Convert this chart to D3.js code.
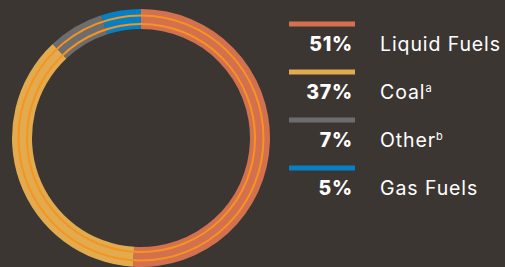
<!DOCTYPE html>
<html lang="en">
  <head>
    <script src="https://cdn.jsdelivr.net/npm/d3@7"></script>
    <style>
      body {
        margin: 0;
        background: #3c3632;
      }
      svg {
        display: block;
        background: #3c3632;
      }
      text {
        font-family: Inter, Roboto, sans-serif;
        fill: #fff;
      }
    </style>
  </head>
  <body>
    <svg></svg>
  </body>
  <script>
    // data
    const categories = ['Liquid Fuels', 'Coal', 'Other', 'Gas Fuels'];
    const shares = [51, 37, 7, 5];
    const notes = ['', 'a', 'b', ''];
    const colors = ['#d3704f', '#e2ab4f', '#6d6d6f', '#0680c4'];

    const width = 505;
    const height = 267;
    const svg = d3.select('svg')
        .attr('width', width)
        .attr('height', height);

    // ring
    const cx = 141, cy = 138;
    const rIn = 109, rOut = 129;

    const pie = d3.pie().sort(null).value(d => d);
    const arc = d3.arc().innerRadius(rIn).outerRadius(rOut);

    const ring = svg.append('g')
        .attr('transform', 'translate(' + cx + ',' + cy + ')');

    ring.selectAll('path')
        .data(pie(shares))
      .enter().append('path')
        .attr('d', arc)
        .attr('fill', (d, i) => colors[i]);

    // thin orange rings
    ring.selectAll('circle')
        .data([114, 122.5])
      .enter().append('circle')
        .attr('r', d => d)
        .attr('fill', 'none')
        .attr('stroke', '#f7941d')
        .attr('stroke-width', 2);

    // legend
    const y = d3.scaleBand()
        .domain(categories)
        .range([0, 192]);

    const rows = svg.append('g').selectAll('g')
        .data(categories)
      .enter().append('g')
        .attr('transform', d => 'translate(0,' + y(d) + ')');

    rows.append('rect')
        .attr('x', 289)
        .attr('y', 21.5)
        .attr('width', 66)
        .attr('height', 5)
        .attr('fill', (d, i) => colors[i]);

    rows.append('text')
        .attr('x', 353)
        .attr('y', 51)
        .attr('text-anchor', 'end')
        .attr('font-size', 19.5)
        .attr('font-weight', 800)
        .attr('letter-spacing', 0.8)
        .text((d, i) => shares[i] + '%');

    const lbl = rows.append('text')
        .attr('x', 380)
        .attr('y', 51)
        .attr('font-size', 19.5)
        .attr('letter-spacing', 0.9)
        .text(d => d);

    lbl.append('tspan')
        .attr('font-size', 11)
        .attr('dy', -7)
        .attr('letter-spacing', 0)
        .text((d, i) => notes[i]);
  </script>
</html>
